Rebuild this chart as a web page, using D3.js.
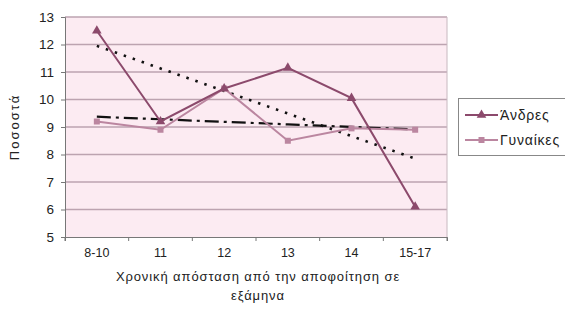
<!DOCTYPE html>
<html>
<head>
<meta charset="utf-8">
<script src="https://cdn.jsdelivr.net/npm/d3@7.9.0/dist/d3.min.js"></script>
<style>
  body { margin: 0; background: #fff; }
  svg { display: block; font-family: "Liberation Sans", Arial, sans-serif; }
</style>
</head>
<body>
<svg id="chart" width="565" height="317"></svg>
<script>
const categories = ['8-10', '11', '12', '13', '14', '15-17'];
const andres = [12.5, 9.2, 10.4, 11.15, 10.05, 6.1];
const gynaikes = [9.2, 8.9, 10.4, 8.5, 8.95, 8.9];
const yTicks = [5, 6, 7, 8, 9, 10, 11, 12, 13];

const svg = d3.select('#chart');
const plotL = 65, plotR = 447, plotT = 17, plotB = 237;

const x = d3.scaleBand().domain(categories).range([plotL, plotR]);
const y = d3.scaleLinear().domain([5, 13]).range([plotB, plotT]);
const cx = d => x(d) + x.bandwidth() / 2;

// least squares trend, like the spreadsheet trendline
function trend(vals) {
  const n = vals.length;
  const mx = (n - 1) / 2, my = d3.mean(vals);
  let sxy = 0, sxx = 0;
  vals.forEach((v, i) => { sxy += (i - mx) * (v - my); sxx += (i - mx) ** 2; });
  const b = sxy / sxx;
  return vals.map((_, i) => my + b * (i - mx));
}

svg.append('rect')
  .attr('x', plotL).attr('y', plotT)
  .attr('width', plotR - plotL).attr('height', plotB - plotT)
  .attr('fill', '#fcebf2');

svg.append('g').selectAll('line').data(yTicks.slice(1)).join('line')
  .attr('x1', plotL).attr('x2', plotR)
  .attr('y1', d => y(d)).attr('y2', d => y(d))
  .attr('stroke', '#bca3b0').attr('stroke-width', 1.5);

svg.append('line')
  .attr('x1', plotR).attr('x2', plotR).attr('y1', plotT).attr('y2', plotB)
  .attr('stroke', '#c8b8c0');

const yAxis = svg.append('g')
  .attr('transform', `translate(${plotL},0)`)
  .call(d3.axisLeft(y).tickValues(yTicks).tickSize(4).tickPadding(7));
const xAxis = svg.append('g')
  .attr('transform', `translate(0,${plotB})`)
  .call(d3.axisBottom(x).tickSize(4).tickPadding(7));
// ticks between categories
xAxis.selectAll('.tick line').attr('transform', `translate(${-x.bandwidth() / 2},0)`);
xAxis.append('line')
  .attr('x1', plotR).attr('x2', plotR).attr('y1', 0).attr('y2', 4)
  .attr('stroke', '#777');

[yAxis, xAxis].forEach(g => {
  g.select('.domain').attr('stroke', '#777');
  g.selectAll('.tick line').attr('stroke', '#777');
  g.selectAll('text').attr('fill', '#222').attr('font-size', 12.5);
});
yAxis.selectAll('text').attr('font-size', 13.5);

const line = d3.line().x((d, i) => cx(categories[i])).y(d => y(d));

svg.append('path').datum(trend(andres))
  .attr('d', line).attr('fill', 'none')
  .attr('stroke', '#111').attr('stroke-width', 2.6)
  .attr('stroke-dasharray', '2.5 7');

svg.append('path').datum(trend(gynaikes))
  .attr('d', line).attr('fill', 'none')
  .attr('stroke', '#111').attr('stroke-width', 2.2)
  .attr('stroke-dasharray', '14 5 3 5');

const cA = '#8c4a6c', cG = '#bb86a0';

svg.append('path').datum(gynaikes)
  .attr('d', line).attr('fill', 'none')
  .attr('stroke', cG).attr('stroke-width', 2);
svg.append('g').selectAll('rect').data(gynaikes).join('rect')
  .attr('x', (d, i) => cx(categories[i]) - 3).attr('y', d => y(d) - 3)
  .attr('width', 6).attr('height', 6).attr('fill', cG);

svg.append('path').datum(andres)
  .attr('d', line).attr('fill', 'none')
  .attr('stroke', cA).attr('stroke-width', 2);
const tri = d3.symbol().type(d3.symbolTriangle).size(40);
svg.append('g').selectAll('path').data(andres).join('path')
  .attr('d', tri)
  .attr('transform', (d, i) => `translate(${cx(categories[i])},${y(d)})`)
  .attr('fill', cA);

// axis titles
svg.append('text')
  .attr('transform', `translate(19,${(plotT + plotB) / 2}) rotate(-90)`)
  .attr('text-anchor', 'middle').attr('font-size', 13).attr('fill', '#222')
  .attr('letter-spacing', 2)
  .text('Ποσοστά');
svg.append('text')
  .attr('x', 258).attr('y', 281)
  .attr('text-anchor', 'middle').attr('font-size', 13).attr('fill', '#222')
  .attr('letter-spacing', 0.9)
  .text('Χρονική απόσταση από την αποφοίτηση σε');
svg.append('text')
  .attr('x', 258).attr('y', 300)
  .attr('text-anchor', 'middle').attr('font-size', 13).attr('fill', '#222')
  .attr('letter-spacing', 0.9)
  .text('εξάμηνα');

// legend
const legend = svg.append('g');
legend.append('rect')
  .attr('x', 458.5).attr('y', 98.5).attr('width', 120).attr('height', 57)
  .attr('fill', '#fff').attr('stroke', '#888');
const items = [
  { name: 'Άνδρες', color: cA, shape: 'tri' },
  { name: 'Γυναίκες', color: cG, shape: 'sq' }
];
items.forEach((it, i) => {
  const ly = 115 + i * 25;
  legend.append('line')
    .attr('x1', 465).attr('x2', 498).attr('y1', ly).attr('y2', ly)
    .attr('stroke', it.color).attr('stroke-width', 2);
  if (it.shape === 'tri') {
    legend.append('path').attr('d', tri)
      .attr('transform', `translate(481.5,${ly})`).attr('fill', it.color);
  } else {
    legend.append('rect').attr('x', 478.5).attr('y', ly - 3)
      .attr('width', 6).attr('height', 6).attr('fill', it.color);
  }
  legend.append('text')
    .attr('x', 500).attr('y', ly + 5)
    .attr('font-size', 14).attr('fill', '#222')
    .attr('letter-spacing', 0.8)
    .text(it.name);
});
</script>
</body>
</html>
